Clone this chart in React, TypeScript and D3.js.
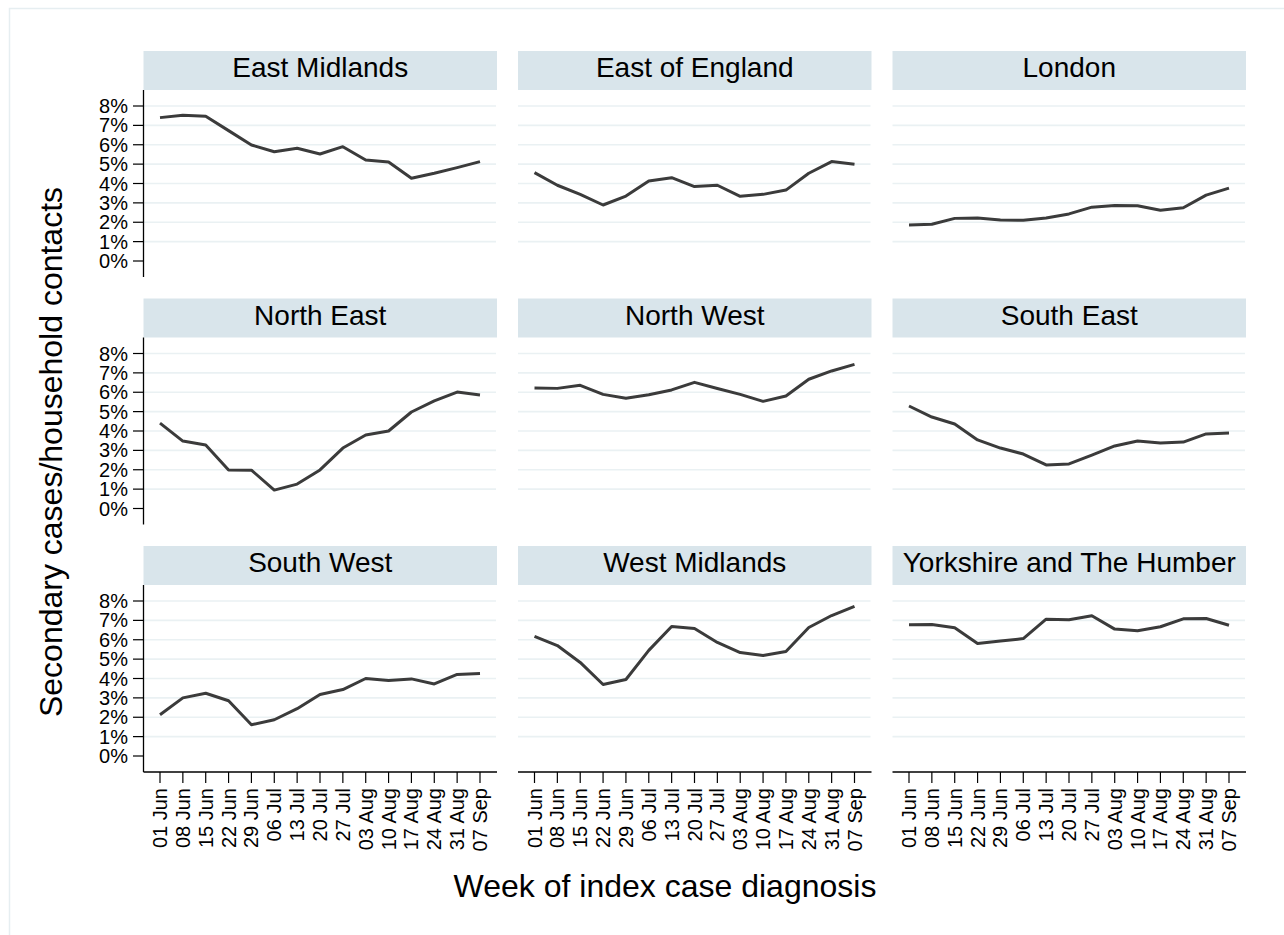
import React from 'react';
import * as d3 from 'd3';

const weeks = ['01 Jun', '08 Jun', '15 Jun', '22 Jun', '29 Jun', '06 Jul', '13 Jul', '20 Jul', '27 Jul', '03 Aug', '10 Aug', '17 Aug', '24 Aug', '31 Aug', '07 Sep'];
const yTicks = [0, 1, 2, 3, 4, 5, 6, 7, 8];
const regions = ['East Midlands', 'East of England', 'London', 'North East', 'North West', 'South East', 'South West', 'West Midlands', 'Yorkshire and The Humber'];

// secondary attack rate, % per week
const eastMidlands = [7.40, 7.52, 7.47, 6.73, 5.99, 5.64, 5.82, 5.52, 5.90, 5.21, 5.11, 4.27, 4.53, 4.82, 5.13];
const eastOfEngland = [4.56, 3.91, 3.44, 2.89, 3.35, 4.13, 4.30, 3.84, 3.91, 3.34, 3.44, 3.66, 4.53, 5.13, 4.99];
const london = [1.86, 1.90, 2.20, 2.22, 2.12, 2.10, 2.22, 2.43, 2.78, 2.87, 2.85, 2.62, 2.75, 3.40, 3.76];
const northEast = [4.41, 3.48, 3.28, 1.99, 1.98, 0.95, 1.26, 1.99, 3.12, 3.79, 4.00, 4.98, 5.55, 6.01, 5.86];
const northWest = [6.22, 6.20, 6.36, 5.89, 5.69, 5.87, 6.12, 6.51, 6.19, 5.89, 5.53, 5.81, 6.67, 7.10, 7.44];
const southEast = [5.29, 4.72, 4.36, 3.54, 3.12, 2.81, 2.25, 2.30, 2.76, 3.23, 3.48, 3.38, 3.43, 3.85, 3.90];
const southWest = [2.13, 3.00, 3.24, 2.85, 1.61, 1.87, 2.44, 3.17, 3.43, 4.00, 3.90, 3.98, 3.72, 4.21, 4.26];
const westMidlands = [6.17, 5.70, 4.83, 3.69, 3.95, 5.45, 6.68, 6.58, 5.86, 5.34, 5.19, 5.39, 6.63, 7.25, 7.72];
const yorkshire = [6.77, 6.79, 6.62, 5.81, 5.93, 6.06, 7.06, 7.03, 7.24, 6.55, 6.46, 6.67, 7.08, 7.10, 6.75];

const series = [eastMidlands, eastOfEngland, london, northEast, northWest, southEast, southWest, westMidlands, yorkshire];

const W = 1284;
const H = 935;
const FONT = "'Liberation Sans', Arial, Helvetica, sans-serif";
const colLeft = [143.5, 518, 892.5];
const panelW = 353.5;
const rowTop = [51, 298.5, 546];
const stripH = 39;
const plotH = 187;
const stripFill = '#d9e5eb';
const gridColor = '#eaf1f3';
const lineColor = '#3b3b3b';

const App: React.FC = () => {
  const panels = regions.map((name, i) => {
    const col = i % 3;
    const row = Math.floor(i / 3);
    const left = colLeft[col];
    const top = rowTop[row];
    const plotTop = top + stripH;
    const plotBottom = plotTop + plotH;
    const x = d3.scalePoint<string>().domain(weeks).range([left + 16.5, left + panelW - 17]);
    const y = d3.scaleLinear().domain([0, 8]).range([plotTop + 171, plotTop + 16]);
    const line = d3.line<number>()
      .x((_, j) => x(weeks[j]) as number)
      .y((d) => y(d));
    const showY = col === 0;
    const showX = row === 2;

    return (
      <g key={name}>
        <rect x={left} y={top} width={panelW} height={stripH} fill={stripFill} />
        <text x={left + panelW / 2} y={top + 26} textAnchor="middle" fontSize={28} fill="#000">{name}</text>
        {yTicks.filter((t) => t > 0).map((t) => (
          <line key={t} x1={left} x2={left + panelW - 1} y1={y(t)} y2={y(t)} stroke={gridColor} strokeWidth={1.6} />
        ))}
        <path d={line(series[i]) || ''} fill="none" stroke={lineColor} strokeWidth={3} strokeLinejoin="round" />
        {showY && (
          <g>
            <line x1={left} x2={left} y1={plotTop} y2={plotBottom} stroke="#000" strokeWidth={1.3} />
            {yTicks.map((t) => (
              <g key={t}>
                <line x1={left - 10.5} x2={left} y1={y(t)} y2={y(t)} stroke="#000" strokeWidth={1.2} />
                <text x={128} y={y(t)} dy="0.35em" textAnchor="end" fontSize={20}>{t}%</text>
              </g>
            ))}
          </g>
        )}
        {showX && (
          <g>
            <line x1={left} x2={left + panelW} y1={plotBottom} y2={plotBottom} stroke="#000" strokeWidth={1.3} />
            {weeks.map((w) => (
              <g key={w}>
                <line x1={x(w)} x2={x(w)} y1={plotBottom} y2={plotBottom + 11} stroke="#000" strokeWidth={1.2} />
                <text transform={`translate(${x(w)},${plotBottom + 16}) rotate(-90)`} dy="0.35em" textAnchor="end" fontSize={20}>{w}</text>
              </g>
            ))}
          </g>
        )}
      </g>
    );
  });

  return (
    <svg width={W} height={H} style={{ position: 'absolute', left: 0, top: 0, display: 'block', background: '#fff' }} fontFamily={FONT}>
      <rect x={9.5} y={8.5} width={W + 20} height={H + 20} fill="#fff" stroke="#e6eef1" strokeWidth={1.5} />
      {panels}
      <text transform="translate(62,452) rotate(-90)" textAnchor="middle" fontSize={32}>Secondary cases/household contacts</text>
      <text x={665} y={897} textAnchor="middle" fontSize={32}>Week of index case diagnosis</text>
    </svg>
  );
};

export default App;
